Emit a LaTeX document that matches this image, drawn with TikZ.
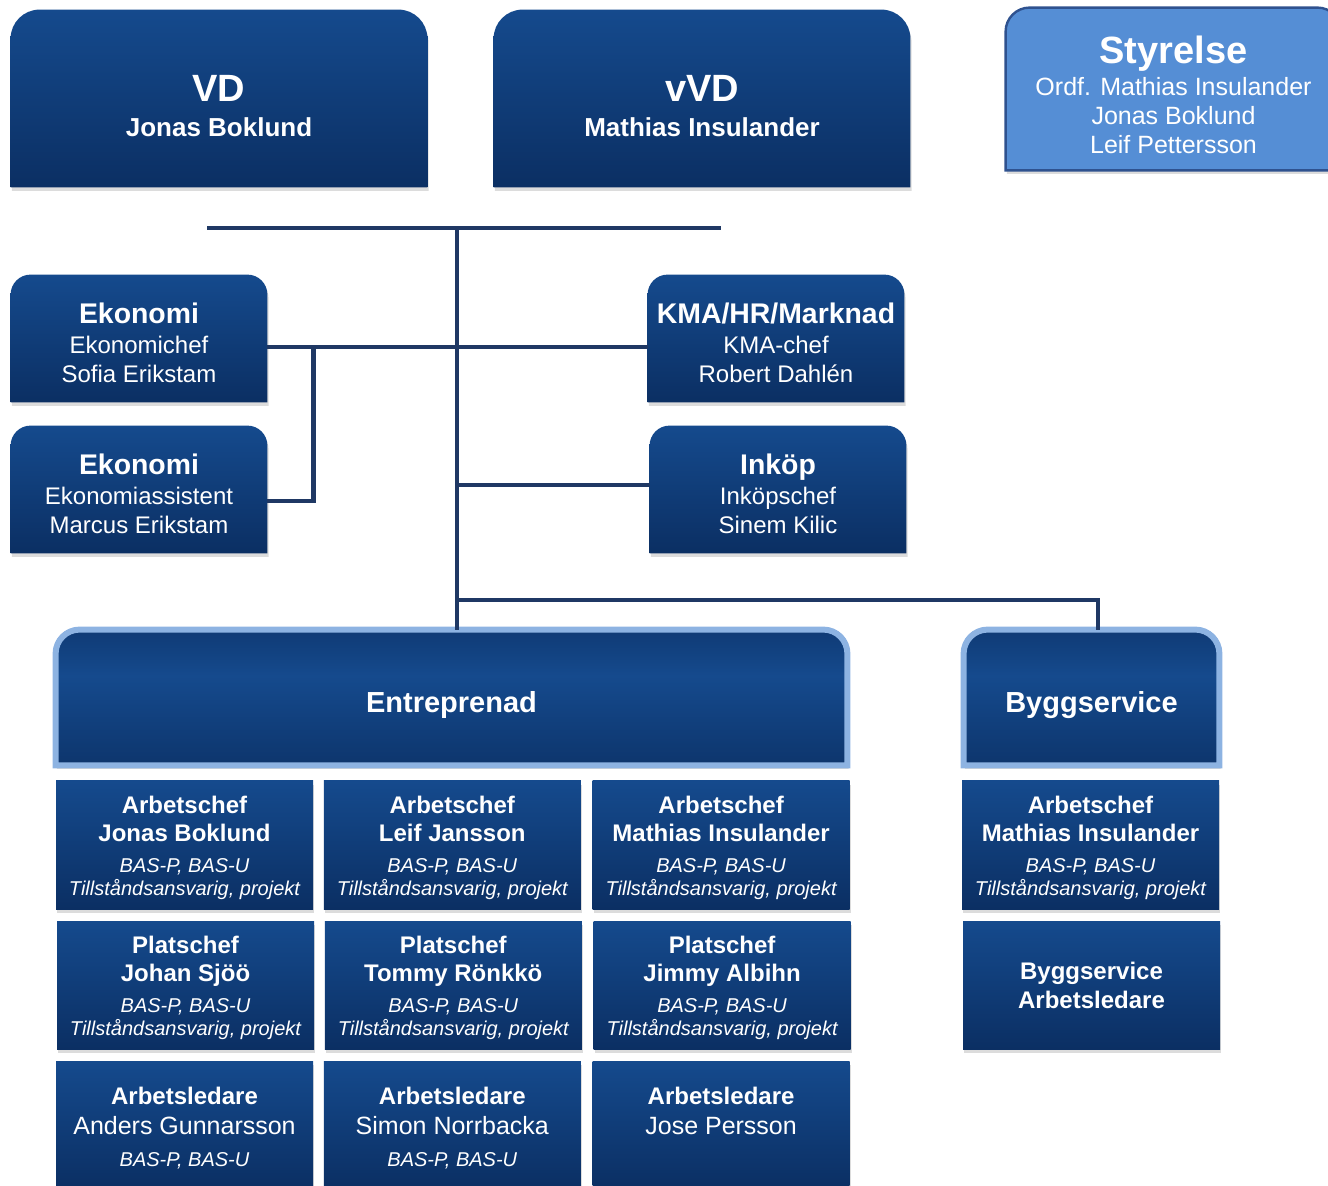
\documentclass[tikz,border=0pt]{standalone}
\usepackage{fontspec}
\setmainfont{Liberation Sans}
\usepackage{tikz}
\usetikzlibrary{positioning, shadows, backgrounds}

\definecolor{navyL}{RGB}{21,74,141}
\definecolor{navyD}{RGB}{11,47,99}
\definecolor{linkblue}{RGB}{31,56,100}
\definecolor{styfill}{RGB}{85,142,213}
\definecolor{styedge}{RGB}{47,82,143}
\definecolor{rimblue}{RGB}{141,179,226}

\pgfdeclareverticalshading{band}{100bp}{color(0bp)=(navyD); color(15bp)=(navyD); color(58bp)=(navyL); color(88bp)=(navyD); color(100bp)=(navyD)}

\newcommand\bigtitle{\fontsize{19}{19}\selectfont\bfseries}
\newcommand\boxname{\fontsize{13}{13}\selectfont\bfseries}
\newcommand\midtitle{\fontsize{14.2}{14.2}\selectfont\bfseries}
\newcommand\plainline{\fontsize{12}{12}\selectfont}
\newcommand\plainbig{\fontsize{12.5}{12.5}\selectfont}
\newcommand\celltitle{\fontsize{12}{12}\selectfont\bfseries}
\newcommand\cellnote{\fontsize{10}{10}\selectfont\itshape}
\newcommand\entfont{\fontsize{14.5}{14.5}\selectfont\bfseries}
\newcommand\lift[1]{\rule{0pt}{#1}}

\newcommand\roundtop[3][]{\path[#1] (#2.south west) -- ([yshift=-#3]#2.north west)
  arc[start angle=180, end angle=90, radius=#3] -- ([xshift=-#3]#2.north east)
  arc[start angle=90, end angle=0, radius=#3] -- (#2.south east) -- cycle;}

\begin{document}
\begin{tikzpicture}[x=0.5pt, y=-0.5pt,
    link/.style={draw=linkblue, line width=2.2pt},
    shade box/.style={top color=navyL, bottom color=navyD},
    soft shadow/.style={drop shadow={opacity=0.28, shadow xshift=0.6pt, shadow yshift=-1.8pt}},
    head/.style={rectangle, inner sep=0pt, text=white, align=center},
    cell/.style={head, shade box, soft shadow, minimum width=128.5pt, minimum height=64pt, font=\fontsize{12}{14}\selectfont},
    rim/.style={draw=rimblue, line width=3pt}]

  \useasboundingbox (0,0) rectangle (1328,1186);
  \clip (0,0) rectangle (1328,1186);

  \node[head, minimum width=208pt, minimum height=88.5pt, font=\fontsize{13}{17.5}\selectfont] (VD) at (219,98.5) {\lift{20.6pt}\bigtitle VD\\\boxname Jonas Boklund};
  \node[head, minimum width=208pt, minimum height=88.5pt, font=\fontsize{13}{17.5}\selectfont] (vVD) at (702,98.5) {\lift{20.6pt}\bigtitle vVD\\\boxname Mathias Insulander};
  \node[head, minimum width=167.5pt, minimum height=81pt, font=\fontsize{12.5}{14.5}\selectfont] (Styr) at (1173.5,89) {\lift{19.9pt}\bigtitle Styrelse\\[1.5pt]\plainbig Ordf. Mathias Insulander\\\plainbig Jonas Boklund\\\plainbig Leif Pettersson};

  \node[head, minimum width=128pt, minimum height=63.5pt, font=\fontsize{12}{14.5}\selectfont] (Eko1) at (139,338.5) {\lift{14.4pt}\midtitle Ekonomi\\[0.5pt]\plainline Ekonomichef\\\plainline Sofia Erikstam};
  \node[head, minimum width=128pt, minimum height=63.5pt, font=\fontsize{12}{14.5}\selectfont] (Eko2) at (139,489.5) {\lift{14.4pt}\midtitle Ekonomi\\[0.5pt]\plainline Ekonomiassistent\\\plainline Marcus Erikstam};
  \node[head, minimum width=128pt, minimum height=63.5pt, font=\fontsize{12}{14.5}\selectfont] (KMA) at (776,338.5) {\lift{14.4pt}\midtitle KMA/HR/Marknad\\[0.5pt]\plainline KMA-chef\\\plainline Robert Dahlén};
  \node[head, minimum width=128pt, minimum height=63.5pt, font=\fontsize{12}{14.5}\selectfont] (Ink) at (778,489.5) {\lift{14.4pt}\midtitle Inköp\\[0.5pt]\plainline Inköpschef\\\plainline Sinem Kilic};

  \node[head, minimum width=395.5pt, minimum height=67.5pt] (Ent) at (451.5,697.5) {\lift{17.6pt}\entfont Entreprenad};
  \node[head, minimum width=127.5pt, minimum height=67.5pt] (Bygg) at (1091.5,697.5) {\lift{17.6pt}\entfont Byggservice};

  \node[cell] (AC1) at (184.5,845) {\lift{11.8pt}\celltitle Arbetschef\\\celltitle Jonas Boklund\\[1.5pt]\cellnote BAS-P, BAS-U\\[-2.5pt]\cellnote Tillståndsansvarig, projekt};
  \node[cell, right=5pt of AC1] (AC2) {\lift{11.8pt}\celltitle Arbetschef\\\celltitle Leif Jansson\\[1.5pt]\cellnote BAS-P, BAS-U\\[-2.5pt]\cellnote Tillståndsansvarig, projekt};
  \node[cell, right=5.5pt of AC2] (AC3) {\lift{11.8pt}\celltitle Arbetschef\\\celltitle Mathias Insulander\\[1.5pt]\cellnote BAS-P, BAS-U\\[-2.5pt]\cellnote Tillståndsansvarig, projekt};
  \node[cell] (AC4) at (1090.5,845) {\lift{11.8pt}\celltitle Arbetschef\\\celltitle Mathias Insulander\\[1.5pt]\cellnote BAS-P, BAS-U\\[-2.5pt]\cellnote Tillståndsansvarig, projekt};

  \node[cell] (PC1) at (185.5,985) {\lift{11.8pt}\celltitle Platschef\\\celltitle Johan Sjöö\\[1.5pt]\cellnote BAS-P, BAS-U\\[-2.5pt]\cellnote Tillståndsansvarig, projekt};
  \node[cell, right=5pt of PC1] (PC2) {\lift{11.8pt}\celltitle Platschef\\\celltitle Tommy Rönkkö\\[1.5pt]\cellnote BAS-P, BAS-U\\[-2.5pt]\cellnote Tillståndsansvarig, projekt};
  \node[cell, right=5.5pt of PC2] (PC3) {\lift{11.8pt}\celltitle Platschef\\\celltitle Jimmy Albihn\\[1.5pt]\cellnote BAS-P, BAS-U\\[-2.5pt]\cellnote Tillståndsansvarig, projekt};
  \node[cell] (BAL) at (1091.5,985) {\celltitle Byggservice\\[0.5pt]\celltitle Arbetsledare};

  \node[cell] (AL1) at (184.5,1125) {\lift{12pt}\celltitle Arbetsledare\\[1pt]\plainbig Anders Gunnarsson\\[2pt]\cellnote BAS-P, BAS-U};
  \node[cell, right=5pt of AL1] (AL2) {\lift{12pt}\celltitle Arbetsledare\\[1pt]\plainbig Simon Norrbacka\\[2pt]\cellnote BAS-P, BAS-U};
  \node[cell, right=5.5pt of AL2] (AL3) {\lift{12pt}\celltitle Arbetsledare\\[1pt]\plainbig Jose Persson\\[2pt]\cellnote\phantom{BAS-P, BAS-U}};

  \begin{scope}[on background layer]
    \roundtop[shade box, soft shadow]{VD}{14.5pt}
    \roundtop[shade box, soft shadow]{vVD}{14.5pt}
    \roundtop[fill=styfill, draw=styedge, line width=1.2pt, soft shadow]{Styr}{12pt}
    \roundtop[shade box, soft shadow]{Eko1}{10pt}
    \roundtop[shade box, soft shadow]{Eko2}{10pt}
    \roundtop[shade box, soft shadow]{KMA}{10pt}
    \roundtop[shade box, soft shadow]{Ink}{10pt}
    \roundtop[shade, shading=band, rim, soft shadow]{Ent}{12pt}
    \roundtop[shade, shading=band, rim, soft shadow]{Bygg}{12pt}
  \end{scope}

  \coordinate (BarL) at (207,228);
  \coordinate (BarR) at (721,228);
  \coordinate (Hub) at (457,228);
  \coordinate (Split) at (457,600);

  \draw[link] (BarL) -- (BarR);
  \draw[link] (Hub) -- (Hub |- Ent.north);
  \draw[link] ([yshift=-4.25pt]Eko1.east) -- ([yshift=-4.25pt]KMA.west);
  \draw[link] ([yshift=-5.75pt]Eko2.east) -| ([xshift=23pt,yshift=-4.25pt]Eko1.east);
  \draw[link] ([yshift=2.25pt]Ink.west) -- ([yshift=2.25pt]Ink.west -| Hub);
  \draw[link] (Split) -| ([xshift=3.25pt]Bygg.north);
\end{tikzpicture}
\end{document}
